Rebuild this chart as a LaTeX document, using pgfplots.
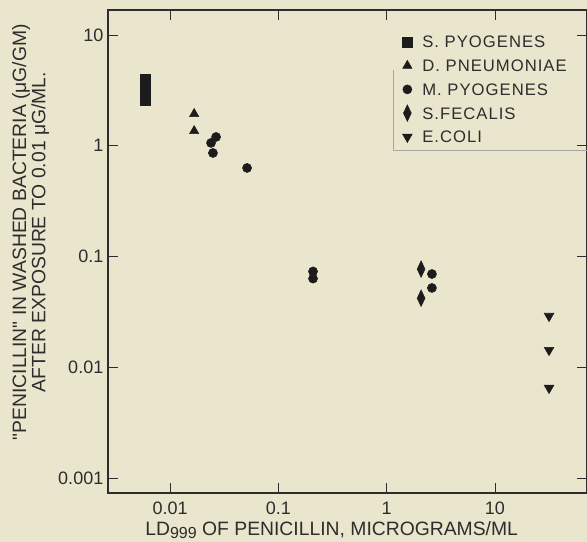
\documentclass[border=0pt]{standalone}
\usepackage{fontspec}
\setmainfont{Liberation Sans}
\newfontfamily\legfont[LetterSpace=6]{Liberation Sans}
\usepackage{pgfplots}
\pgfplotsset{compat=1.18}

\definecolor{paper}{RGB}{233,230,205}
\definecolor{ink}{RGB}{28,28,28}
\definecolor{txt}{RGB}{45,45,45}

\begin{document}
\begin{tikzpicture}
\fill[paper] (-81pt,-36.75pt) rectangle (359.25pt,369.75pt);
\begin{axis}[
  scale only axis, width=359.25pt, height=362.25pt,
  xmode=log, ymode=log,
  xmin=0.002673, xmax=70.8, ymin=7.33e-4, ymax=16.8,
  xtick={0.01,0.1,1,10}, xticklabels={0.01,0.1,1,10},
  ytick={0.001,0.01,0.1,1,10}, yticklabels={0.001,0.01,0.1,1,10},
  xminorticks=false, yminorticks=false,
  tick align=inside, major tick length=7.5pt,
  tick style={txt, line width=0.6pt},
  axis line style={txt, line width=0.9pt},
  ticklabel style={font=\fontsize{13.5}{14}\selectfont, text=txt},
  xticklabel style={yshift=-3pt},
  label style={font=\fontsize{14.5}{11.5}\selectfont, text=txt},
  xlabel={LD\raisebox{-0.3ex}{\fontsize{12}{12}\selectfont 999} OF PENICILLIN, MICROGRAMS/ML},
  ylabel={\textquotedbl PENICILLIN\textquotedbl\ IN WASHED BACTERIA (μG/GM)\\AFTER EXPOSURE TO 0.01 μG/ML.},
  ylabel style={align=center, at={(ticklabel cs:0.54)}},
  xlabel style={at={(ticklabel cs:0.467)}, inner ysep=1pt, yshift=-0.8pt},
  legend cell align=left,
  legend image code/.code={\draw[mark repeat=2,mark phase=2,#1] plot coordinates {(0cm,0cm)(0.15cm,0cm)(0.3cm,0cm)};},
  legend style={at={(0.614,0.959)}, anchor=north west, draw=none, fill=none,
    inner sep=0pt, row sep=0pt, text=txt,
    font=\legfont\fontsize{12.5}{13}\selectfont,
    nodes={inner ysep=4.4pt, inner xsep=7.5pt, text height=9pt, text depth=0pt}},
]
% S. pyogenes
\addplot[only marks, mark=square*, mark size=3.75pt, ink] coordinates {
  (0.00588,2.59) (0.00588,2.93) (0.00588,3.25) (0.00588,3.61) (0.00588,4.01)};
\addlegendentry{S. PYOGENES}
% D. pneumoniae
\addplot[only marks, mark=triangle*, mark size=4pt, ink] coordinates {
  (0.0167,1.94) (0.0167,1.36)};
\addlegendentry{D. PNEUMONIAE}
% M. pyogenes
\addplot[only marks, mark=*, mark size=3.4pt, ink] coordinates {
  (0.0266,1.20) (0.0239,1.06) (0.0249,0.86) (0.0514,0.63)
  (0.209,0.0733) (0.209,0.0632) (2.62,0.0695) (2.62,0.052)};
\addlegendentry{M. PYOGENES}
% S. fecalis
\addplot[only marks, mark=diamond*, mark size=6.2pt, mark options={xscale=0.63}, ink] coordinates {
  (2.08,0.077) (2.08,0.042)};
\addlegendentry{S.FECALIS}
% E. coli
\addplot[only marks, mark=triangle*, mark size=4.2pt, mark options={rotate=180}, ink] coordinates {
  (31.6,0.029) (31.6,0.0143) (31.6,0.0065)};
\addlegendentry{E.COLI}
\draw[black!35, line width=0.5pt] (rel axis cs:0.595,0.876) -- (rel axis cs:0.595,0.710) -- (rel axis cs:1,0.710);
\end{axis}
\pgfresetboundingbox
\path[use as bounding box] (-81pt,-36.75pt) rectangle (359.25pt,369.75pt);
\end{tikzpicture}
\end{document}
